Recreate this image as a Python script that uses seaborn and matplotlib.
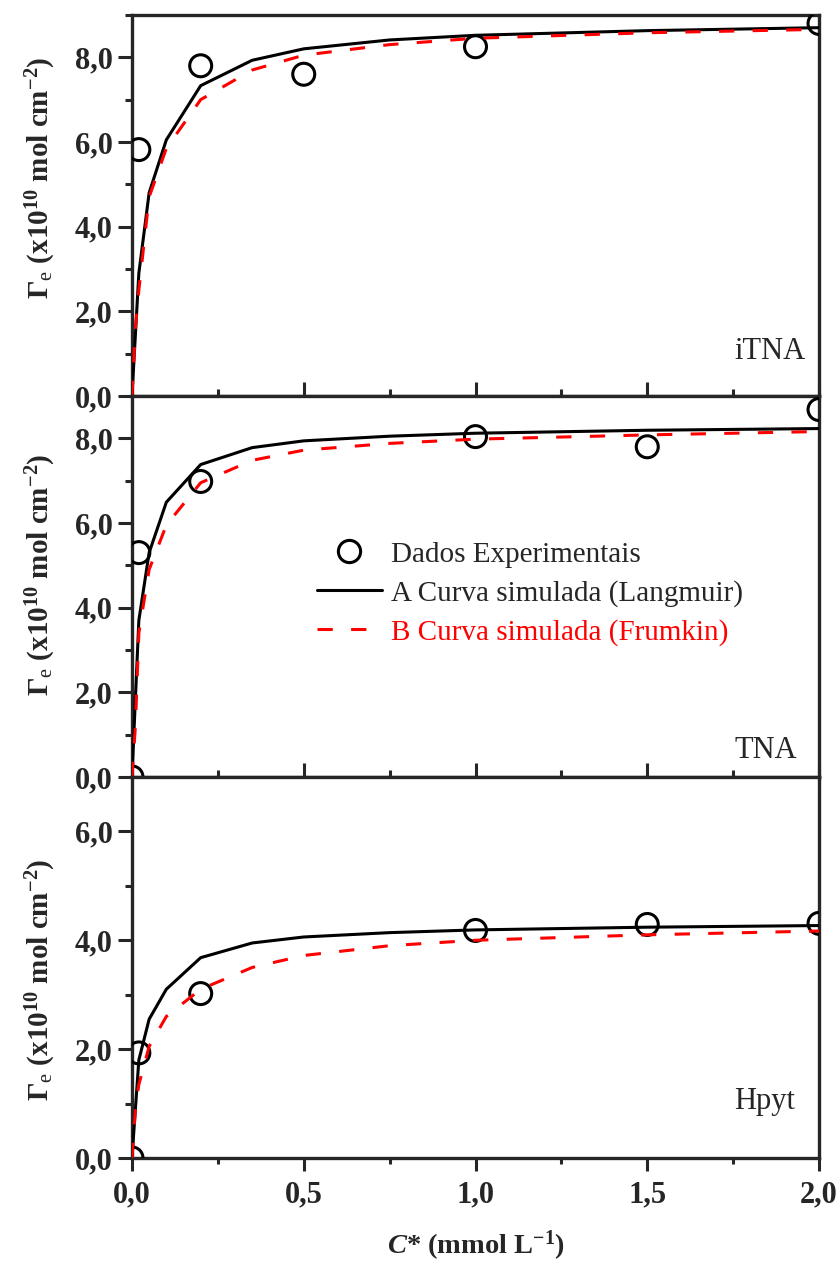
import matplotlib
matplotlib.use("Agg")
import matplotlib.pyplot as plt
from matplotlib.lines import Line2D
from matplotlib.ticker import MultipleLocator, FuncFormatter
import seaborn as sns

# ---------------- data ----------------
panel_names = ["iTNA", "TNA", "Hpyt"]

# experimental points
exp_x_itna = [0.02, 0.2, 0.5, 1.0, 2.0]
exp_y_itna = [5.82, 7.80, 7.60, 8.25, 8.80]
exp_x_tna = [0.0, 0.02, 0.2, 1.0, 1.5, 2.0]
exp_y_tna = [0.0, 5.30, 6.98, 8.04, 7.80, 8.68]
exp_x_hpyt = [0.0, 0.02, 0.2, 1.0, 1.5, 2.0]
exp_y_hpyt = [0.0, 1.93, 3.02, 4.18, 4.29, 4.31]

# simulated curves: Langmuir (A)
lang_x_itna = [0.0, 0.02, 0.05, 0.1, 0.2, 0.35, 0.5, 0.75, 1.0, 1.5, 2.0]
lang_y_itna = [0.0, 2.90, 4.80, 6.05, 7.33, 7.93, 8.20, 8.41, 8.52, 8.63, 8.70]
lang_x_tna = [0.0, 0.02, 0.05, 0.1, 0.2, 0.35, 0.5, 0.75, 1.0, 1.5, 2.0]
lang_y_tna = [0.0, 3.70, 5.30, 6.49, 7.38, 7.78, 7.94, 8.05, 8.12, 8.19, 8.23]
lang_x_hpyt = [0.0, 0.02, 0.05, 0.1, 0.2, 0.35, 0.5, 0.75, 1.0, 1.5, 2.0]
lang_y_hpyt = [0.0, 1.80, 2.55, 3.10, 3.68, 3.95, 4.06, 4.14, 4.19, 4.24, 4.27]

# simulated curves: Frumkin (B)
frum_x_itna = [0.0, 0.01, 0.02, 0.05, 0.1, 0.2, 0.35, 0.5, 0.75, 1.0, 1.5, 2.0]
frum_y_itna = [0.0, 1.60, 2.50, 4.70, 5.85, 7.00, 7.70, 8.05, 8.30, 8.45, 8.58, 8.66]
frum_x_tna = [0.0, 0.01, 0.02, 0.05, 0.1, 0.2, 0.35, 0.5, 0.75, 1.0, 1.5, 2.0]
frum_y_tna = [0.0, 1.20, 3.40, 4.90, 5.95, 6.95, 7.48, 7.72, 7.88, 7.98, 8.08, 8.16]
frum_x_hpyt = [0.0, 0.01, 0.02, 0.05, 0.1, 0.2, 0.35, 0.5, 0.75, 1.0, 1.5, 2.0]
frum_y_hpyt = [0.0, 0.90, 1.35, 2.05, 2.60, 3.10, 3.50, 3.72, 3.90, 4.00, 4.10, 4.17]

y_max = [9.0, 9.0, 7.0]
legend_labels = ["Dados Experimentais", "A Curva simulada (Langmuir)",
                 "B Curva simulada (Frumkin)"]

# ---------------- style ----------------
sns.set_style("ticks")
plt.rcParams["font.family"] = ["Liberation Serif", "DejaVu Serif"]
plt.rcParams["mathtext.fontset"] = "custom"
plt.rcParams["mathtext.rm"] = "Liberation Serif"
plt.rcParams["mathtext.it"] = "Liberation Serif:italic"
plt.rcParams["mathtext.bf"] = "Liberation Serif:bold"
plt.rcParams["mathtext.bfit"] = "Liberation Serif:bold:italic"

fig, axes = plt.subplots(3, 1, figsize=(8.39, 12.69), dpi=100, sharex=True)
fig.subplots_adjust(left=0.1573, right=0.9762, top=0.9882, bottom=0.0875, hspace=0)

exps = [(exp_x_itna, exp_y_itna), (exp_x_tna, exp_y_tna), (exp_x_hpyt, exp_y_hpyt)]
langs = [(lang_x_itna, lang_y_itna), (lang_x_tna, lang_y_tna), (lang_x_hpyt, lang_y_hpyt)]
frums = [(frum_x_itna, frum_y_itna), (frum_x_tna, frum_y_tna), (frum_x_hpyt, frum_y_hpyt)]

label_pos = [(0.981, 0.097), (0.968, 0.05), (0.965, 0.129)]
ylabel_y = [0.573, 0.53, 0.468]
fmt = FuncFormatter(lambda v, p: f"{v:.1f}".replace(".", ","))

DASH = (0, (5, 6))
LW = 2.2
TICKFS = 22

for i, ax in enumerate(axes):
    ex, ey = exps[i]
    lx, ly = langs[i]
    fx, fy = frums[i]
    sns.scatterplot(x=ex, y=ey, ax=ax, marker="o", s=250, facecolor="none",
                    edgecolor="black", linewidth=2.2, zorder=3)
    sns.lineplot(x=lx, y=ly, ax=ax, color="black", lw=LW, estimator=None,
                 sort=False, zorder=4)
    sns.lineplot(x=fx, y=fy, ax=ax, color="red", lw=LW, estimator=None,
                 sort=False, linestyle=DASH, zorder=5)

    ax.set_xlim(0, 2.0)
    ax.set_ylim(0, y_max[i])
    ax.xaxis.set_major_locator(MultipleLocator(0.5))
    ax.xaxis.set_minor_locator(MultipleLocator(0.25))
    ax.yaxis.set_major_locator(MultipleLocator(2))
    ax.yaxis.set_minor_locator(MultipleLocator(1))
    ax.yaxis.set_major_formatter(fmt)
    ax.xaxis.set_major_formatter(fmt)
    for s in ax.spines.values():
        s.set_linewidth(2.4)
        s.set_visible(True)
    ax.tick_params(axis="y", which="major", direction="out", length=10, width=2.2,
                   labelsize=TICKFS, pad=4)
    ax.tick_params(axis="y", which="minor", direction="out", length=5, width=2.2)
    if i < 2:
        ax.tick_params(axis="x", which="major", direction="inout", length=20, width=2.2,
                       labelbottom=False)
        ax.tick_params(axis="x", which="minor", direction="inout", length=10, width=2.2)
    else:
        ax.tick_params(axis="x", which="major", direction="out", length=9, width=2.2,
                       labelsize=TICKFS, pad=7)
        ax.tick_params(axis="x", which="minor", direction="out", length=4.5, width=2.2)
    for lab in ax.get_yticklabels() + ax.get_xticklabels():
        lab.set_fontweight("bold")

    ax.set_ylabel(r"$\mathbf{\Gamma}_{\mathrm{e}}$ (x10$^{\mathbf{10}}$ mol cm$^{\mathbf{-2}}$)",
                  fontsize=21, fontweight="bold")
    ax.yaxis.set_label_coords(-0.107, ylabel_y[i])

    tx, ty = label_pos[i]
    ax.text(tx, ty, panel_names[i], transform=ax.transAxes, ha="right",
            va="baseline", fontsize=22)
    ax.set_xlabel("")

axes[2].set_xlabel(r"$\mathbfit{C}$* (mmol L$^{\mathbf{-1}}$)", fontsize=20.5,
                   fontweight="bold")
axes[2].xaxis.set_label_coords(0.5, -0.185)
for lab in axes[2].get_xticklabels():
    lab.set_fontweight("bold")

handles = [
    Line2D([], [], linestyle="none", marker="o", markersize=16, markerfacecolor="none",
           markeredgecolor="black", markeredgewidth=2.2),
    Line2D([], [], color="black", lw=LW),
    Line2D([], [], color="red", lw=LW, linestyle=DASH),
]
leg = axes[1].legend(handles, legend_labels, loc="upper left",
                     bbox_to_anchor=(0.269, 0.619), frameon=False, fontsize=21,
                     handlelength=2.24, handletextpad=0.3, labelspacing=0.42,
                     borderpad=0, borderaxespad=0)
leg.get_texts()[2].set_color("red")

fig.savefig("out.png", dpi=100)
